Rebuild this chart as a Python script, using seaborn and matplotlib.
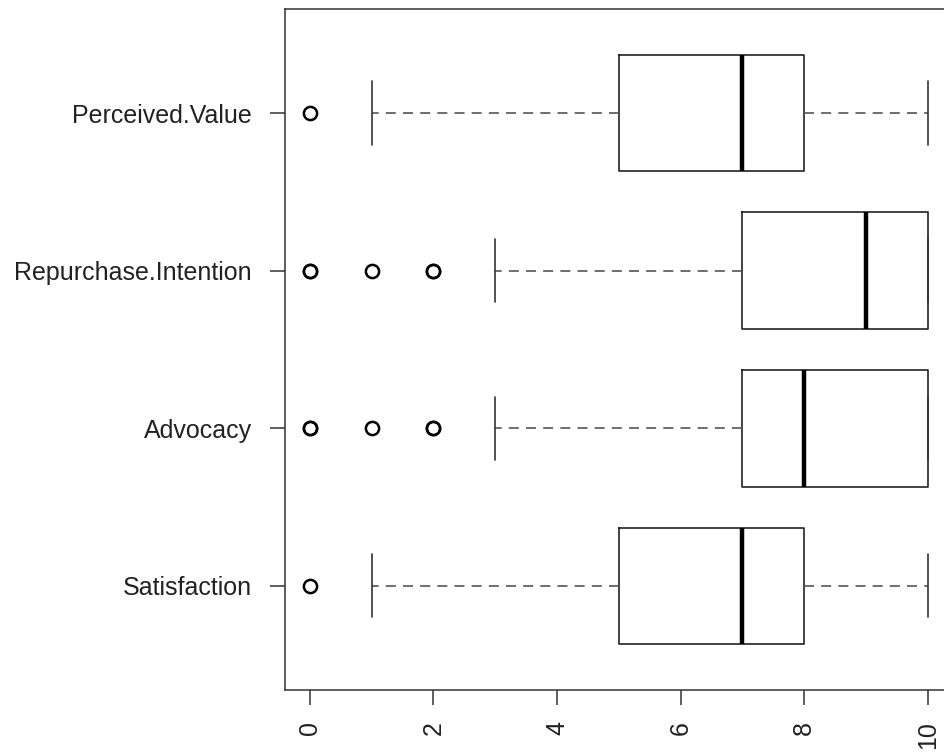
import numpy as np
import pandas as pd
import matplotlib
matplotlib.use("Agg")
import matplotlib.pyplot as plt
import seaborn as sns

# Survey items (top to bottom) and response counts for each score 0..10
items = ["Perceived.Value", "Repurchase.Intention", "Advocacy", "Satisfaction"]
scores = list(range(11))
perceived_value_counts = [1, 2, 3, 4, 5, 10, 8, 15, 12, 7, 5]
repurchase_intention_counts = [2, 1, 2, 3, 4, 5, 6, 10, 12, 18, 37]
advocacy_counts = [2, 1, 2, 3, 4, 5, 6, 10, 22, 10, 35]
satisfaction_counts = [1, 3, 4, 5, 6, 12, 10, 18, 14, 8, 6]
x_ticks = [0, 2, 4, 6, 8, 10]

counts_by_item = {
    "Perceived.Value": perceived_value_counts,
    "Repurchase.Intention": repurchase_intention_counts,
    "Advocacy": advocacy_counts,
    "Satisfaction": satisfaction_counts,
}
rows = []
for item, counts in counts_by_item.items():
    for s, c in zip(scores, counts):
        rows.extend([(item, s)] * c)
df = pd.DataFrame(rows, columns=["item", "score"])

sns.set_theme(style="white")
plt.rcParams["font.family"] = ["Liberation Sans", "DejaVu Sans"]

fig = plt.figure(figsize=(9.45, 7.53), dpi=100)
ax = fig.add_axes([0.3016, 0.0837, 0.7063, 0.9044])

sns.boxplot(
    data=df, x="score", y="item", order=items, ax=ax,
    width=0.74, whis=1.5, fill=False, color="black", linewidth=1.1,
    capwidths=0.4,
    boxprops=dict(color="#222222", linewidth=1.2),
    whiskerprops=dict(color="#555555", linewidth=1.2, linestyle=(0, (6.0, 4.3))),
    capprops=dict(color="#333333", linewidth=1.2),
    medianprops=dict(color="black", linewidth=3.2),
    flierprops=dict(marker="o", markerfacecolor="none", markeredgecolor="black",
                    markersize=9.5, markeredgewidth=1.8),
)

ax.set_xlim(-0.4, 10.4)
ax.set_ylim(3.66, -0.66)
ax.set_xticks(x_ticks)
ax.set_xticklabels([str(t) for t in x_ticks], rotation=90)
ax.set_xlabel("")
ax.set_ylabel("")
ax.tick_params(axis="both", which="both", length=11, width=1.1, color="#333333",
               labelsize=18, labelcolor="#222222", direction="out")
ax.tick_params(axis="x", bottom=True, pad=11.5)
ax.tick_params(axis="y", left=True, pad=13)
for sp in ax.spines.values():
    sp.set_visible(True)
    sp.set_color("#333333")
    sp.set_linewidth(1.1)

fig.savefig("out.png", dpi=100)
